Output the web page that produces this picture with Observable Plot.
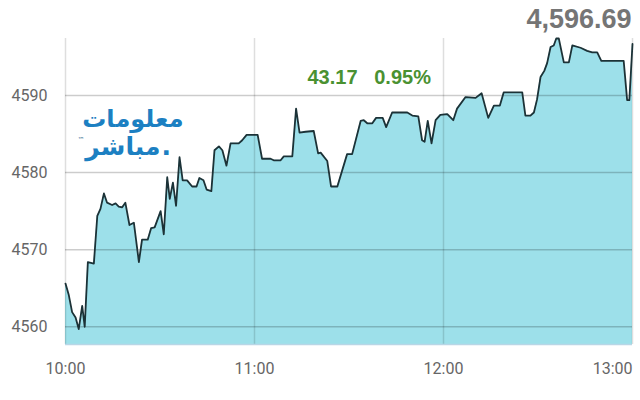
<!DOCTYPE html>
<html>
<head>
<meta charset="utf-8">
<script src="https://cdn.jsdelivr.net/npm/d3@7"></script>
<script src="https://cdn.jsdelivr.net/npm/@observablehq/plot@0.6"></script>
<style>
  html, body { margin: 0; padding: 0; background: #fff; }
  #chart svg { display: block; }
</style>
</head>
<body>
<div id="chart"></div>
<script>
// minutes after 10:00
const times = [0, 1.0, 2.1, 3.2, 4.2, 5.3, 6.1, 7.1, 9.0, 10.1, 11.1, 12.2, 13.2, 14.8, 15.9, 16.9, 18.0, 19.0, 20.3, 21.7,
  23.3, 24.3, 26.1, 27.2, 28.3, 30.2, 31.2, 32.3, 33.1, 34.1, 35.1, 36.2, 37.2, 38.6, 40.2, 41.6, 42.5, 43.8, 44.8, 46.3,
  47.3, 48.7, 49.8, 51.1, 52.4, 55.0, 56.1, 57.5, 61.0, 62.4, 65.1, 66.1, 68.3, 69.3, 72.0, 73.2, 74.3, 76.2, 78.8, 80.2,
  81.0, 83.1, 84.3, 86.3, 89.4, 91.0, 93.7, 94.7, 95.8, 97.4, 98.6, 100.7, 101.8, 103.7, 108.5, 110.1, 112.0, 113.2, 114.0, 115.0,
  116.2, 117.5, 119.0, 121.2, 123.1, 124.3, 127.0, 130.2, 132.1, 134.2, 136.0, 137.9, 139.1, 145.0, 146.0, 147.6, 148.7, 149.7, 150.8, 152.0,
  152.9, 154.0, 155.0, 155.8, 156.6, 158.2, 159.8, 160.9, 163.5, 165.6, 167.2, 168.8, 170.1, 177.2, 178.3, 179.0, 180.0];
const values = [4565.6, 4564.2, 4561.9, 4561.2, 4559.7, 4562.7, 4560.0, 4568.4, 4568.2, 4574.4, 4575.3, 4577.3, 4576.1, 4575.8, 4576.0, 4575.6, 4575.5, 4576.1, 4573.2, 4573.5,
  4568.4, 4571.3, 4571.3, 4572.8, 4572.9, 4575.0, 4572.0, 4579.4, 4576.6, 4578.7, 4575.7, 4582.0, 4579.0, 4579.0, 4578.2, 4578.2, 4579.3, 4579.0, 4577.8, 4577.6,
  4582.9, 4583.4, 4582.9, 4580.9, 4583.8, 4583.8, 4584.2, 4584.9, 4584.9, 4581.8, 4581.8, 4581.6, 4581.6, 4582.1, 4582.1, 4588.3, 4585.2, 4585.3, 4585.4, 4582.5,
  4582.6, 4581.5, 4578.2, 4578.2, 4582.4, 4582.4, 4586.7, 4586.8, 4586.4, 4586.4, 4587.1, 4587.1, 4585.9, 4587.8, 4587.8, 4587.4, 4587.3, 4584.2, 4584.0, 4586.7,
  4583.8, 4586.8, 4587.5, 4587.6, 4586.8, 4588.3, 4589.8, 4589.7, 4590.3, 4587.1, 4588.7, 4588.7, 4590.4, 4590.4, 4587.4, 4587.4, 4587.8, 4589.5, 4592.4, 4593.2,
  4594.2, 4596.3, 4596.5, 4597.4, 4597.4, 4594.3, 4594.3, 4596.5, 4596.2, 4595.8, 4595.6, 4595.6, 4594.5, 4594.5, 4589.4, 4589.4, 4596.69];

const xTicks = [0, 60, 120, 180];
const xTickLabels = ["10:00", "11:00", "12:00", "13:00"];
const yTicks = [4560, 4570, 4580, 4590];
const yMin = 4557.7, yMax = 4597.4;
const lastValueLabel = "4,596.69";
const changeLabel = "43.17\u00a0\u00a0\u00a00.95%";
const logoLine1 = "معلومات";
const logoLine2 = "مباشر";

const data = times.map((t, i) => ({t, v: values[i]}));
const arFont = "'DejaVu Sans', sans-serif";
const tickFont = "Roboto, 'Liberation Sans', sans-serif";

const chart = Plot.plot({
  width: 640,
  height: 400,
  marginTop: 38,
  marginBottom: 56,
  marginLeft: 65,
  marginRight: 8,
  style: {background: "#fff"},
  x: {domain: [0, 180], axis: null},
  y: {domain: [yMin, yMax], axis: null},
  marks: [
    Plot.areaY(data, {x: "t", y1: yMin, y2: "v", fill: "#9de0ea"}),
    Plot.gridY(yTicks, {stroke: "#000", strokeOpacity: 0.2, strokeWidth: 1.5}),
    Plot.gridX(xTicks, {stroke: "#000", strokeOpacity: 0.13, strokeWidth: 1.5}),
    Plot.ruleY([yMin], {stroke: "#b9d6e6", strokeWidth: 1.5}),
    Plot.lineY(data, {x: "t", y: "v", stroke: "#1c3237", strokeWidth: 1.8}),
    Plot.axisY(yTicks, {label: null, tickSize: 0, tickPadding: 18, fontSize: 16, fill: "#666", fontFamily: tickFont,
      tickFormat: d => String(d)}),
    Plot.axisX(xTicks.slice(0, 3), {label: null, tickSize: 0, tickPadding: 18, fontSize: 16, fill: "#666", fontFamily: tickFont,
      tickFormat: d => xTickLabels[xTicks.indexOf(d)]}),
    Plot.axisX(xTicks.slice(3), {label: null, tickSize: 0, tickPadding: 18, fontSize: 16, fill: "#666", textAnchor: "end", fontFamily: tickFont,
      tickFormat: d => xTickLabels[xTicks.indexOf(d)]}),
    Plot.text([lastValueLabel], {frameAnchor: "top-right", dx: -1, dy: -11, lineAnchor: "bottom", textAnchor: "end",
      fontSize: 27, fontWeight: "bold", fill: "#757575", fontFamily: "'Liberation Sans', Arial, sans-serif", text: d => d}),
    Plot.text([changeLabel], {frameAnchor: "top-left", dx: 242, dy: 45, lineAnchor: "bottom", textAnchor: "start",
      fontSize: 20, fontWeight: "bold", fill: "#4a9131", fontFamily: "'Liberation Sans', Arial, sans-serif", text: d => d}),
    Plot.text([logoLine1], {frameAnchor: "top-left", dx: 118, dy: 88, lineAnchor: "bottom", textAnchor: "end",
      fontSize: 24, fontWeight: "bold", fill: "#1c80c2", fontFamily: arFont, text: d => d}),
    Plot.text([logoLine2], {frameAnchor: "top-left", dx: 95, dy: 116, lineAnchor: "bottom", textAnchor: "end",
      fontSize: 25, fontWeight: "bold", fill: "#1c80c2", fontFamily: arFont, text: d => d}),
    Plot.text(["."], {frameAnchor: "top-left", dx: 96, dy: 116, lineAnchor: "bottom", textAnchor: "start",
      fontSize: 25, fontWeight: "bold", fill: "#1c80c2", fontFamily: arFont, text: d => d}),
    Plot.text(["™"], {frameAnchor: "top-left", dx: 12, dy: 101, lineAnchor: "middle", textAnchor: "start",
      fontSize: 7, fill: "#3b6f95", fontFamily: arFont, text: d => d})
  ]
});
document.getElementById("chart").append(chart);
</script>
</body>
</html>
